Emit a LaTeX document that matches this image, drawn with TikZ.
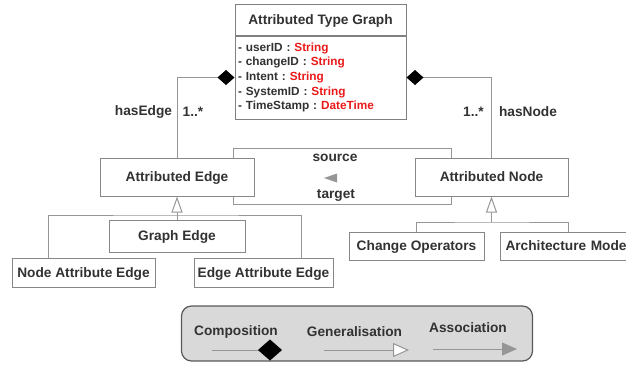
\documentclass[tikz,border=0pt]{standalone}
\usepackage{fontspec}
\setmainfont{Liberation Sans}
\usetikzlibrary{arrows.meta,calc,positioning}

\definecolor{linegray}{RGB}{150,150,150}
\definecolor{boxgray}{RGB}{135,135,135}
\definecolor{textgray}{RGB}{50,50,50}
\definecolor{typered}{RGB}{235,25,25}
\definecolor{legendfill}{RGB}{217,217,217}

\tikzset{
    cls/.style={draw=boxgray, fill=white, line width=1pt, text=textgray, text depth=0pt},
    lbl/.style={text=textgray, inner sep=0pt},
    link/.style={draw=linegray, line width=1pt},
    comp/.style={link, {Diamond[length=17pt,width=15pt,fill=black,color=black]}-},
    gen/.style={link, -{Triangle[open,fill=white,length=16pt,width=11pt]}},
    assoc/.style={link, -{Triangle[length=15pt,width=13pt,fill=linegray,color=linegray]}}
}
\newcommand{\attr}[2]{-~#1~:~\textcolor{typered}{#2}}

\begin{document}
\begin{tikzpicture}[x=1pt,y=-1pt,font=\fontsize{13.7}{16}\selectfont\bfseries]
    \useasboundingbox (0,0) rectangle (626,365);
    \clip (0,0) rectangle (626,365);

    % type graph with its attributes
    \node[cls, draw=gray, minimum width=171pt, minimum height=31pt] (atg) at (320.5,19.5) {Attributed Type Graph};
    \node[cls, draw=gray, text depth=, anchor=north, text width=165pt, inner xsep=3pt, minimum height=83pt,
          align=left, font=\fontsize{11.8}{14.7}\selectfont\bfseries] (attrs) at (atg.south)
        {\attr{userID}{String}\\ \attr{changeID}{String}\\ \attr{Intent}{String}\\
         \attr{SystemID}{String}\\ \attr{TimeStamp}{DateTime}};

    % source / target loop, drawn under the two classes
    \coordinate (srcl) at (233,0);
    \coordinate (srcr) at (451,0);

    \node[cls, minimum width=154pt, minimum height=38pt] (aedge) at (177,177) {Attributed Edge};
    \node[cls, minimum width=153pt, minimum height=38pt] (anode) at (491.5,177) {Attributed Node};

    \draw[link] (aedge.north -| srcl) -- ++(0,-9) -| (anode.north -| srcr);
    \draw[link] (aedge.south -| srcl) -- ++(0,8) -| (anode.south -| srcr);
    \node[lbl] (src) at (335,158) {source};
    \node[lbl] (tgt) at (336,195) {target};
    \fill[linegray] (324,178) -- (337,173.5) -- (337,182.5) -- cycle;

    % compositions
    \draw[comp] (attrs.west) -| (aedge.north);
    \draw[comp] (attrs.east) -| (anode.north);
    \node[lbl] (hasedge) at (143.5,112) {hasEdge};
    \node[lbl] (multe) at (193,112) {1..*};
    \node[lbl] (multn) at (473.5,112) {1..*};
    \node[lbl] (hasnode) at (528,112) {hasNode};

    % edge kinds
    \node[cls, minimum width=136pt, minimum height=32pt] (gedge) at (177,236) {Graph Edge};
    \node[cls, minimum width=143pt, minimum height=29pt] (nae) at (83.5,272.5) {Node Attribute Edge};
    \node[cls, minimum width=139pt, minimum height=29pt] (eae) at (263.5,272.5) {Edge Attribute Edge};
    \coordinate (lsplit) at (177,215);
    \draw[gen] (gedge.north) -- (aedge.south);
    \draw[link] ($(nae.north west)+(37,0)$) |- (lsplit) -| ($(eae.north east)+(-32,0)$);

    % node kinds
    \node[cls, minimum width=135pt, minimum height=28pt] (cop) at (416.5,246) {Change Operators};
    \node[cls, anchor=west, minimum height=28pt, text width=130pt, inner xsep=5pt, align=left] (arch) at (500,246) {Architecture Mode};
    \coordinate (rsplit) at (491.5,222);
    \draw[gen] (rsplit) -- (anode.south);
    \draw[link] (cop.north) |- (rsplit) -| ($(arch.north west)+(68,0)$);

    % legend
    \node[draw=gray!70!black, fill=legendfill, line width=1.2pt, rounded corners=10pt,
          minimum width=351pt, minimum height=55pt] (legend) at (357,333.5) {};
    \node[lbl] (lcomp) at (236,332) {Composition};
    \node[lbl] (lgen) at (354.5,332) {Generalisation};
    \node[lbl] (lassoc) at (468,328) {Association};
    \coordinate (ca) at (212,350);
    \coordinate (cb) at (282,350);
    \coordinate (ga) at (324,350);
    \coordinate (gb) at (409,350);
    \coordinate (aa) at (433,349);
    \coordinate (ab) at (517,349);
    \draw[link, -{Diamond[length=24pt,width=21pt,fill=black,color=black]}] (ca) -- (cb);
    \draw[link, -{Triangle[open,fill=white,length=16pt,width=14pt]}] (ga) -- (gb);
    \draw[assoc] (aa) -- (ab);
\end{tikzpicture}
\end{document}
